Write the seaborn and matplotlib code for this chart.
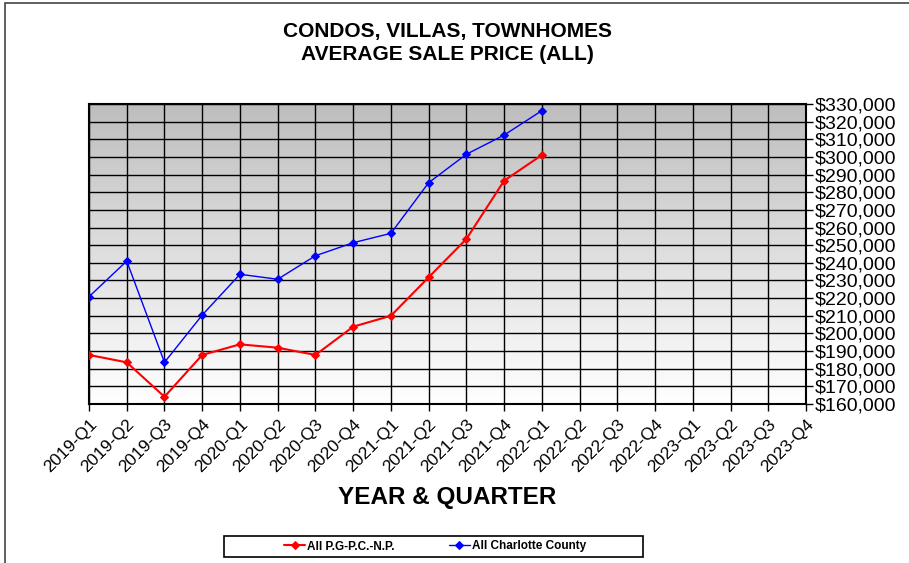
import numpy as np
import pandas as pd
import seaborn as sns
import matplotlib.pyplot as plt
from matplotlib.patches import Rectangle

# quarters on the x axis (data only up to 2022-Q1)
quarters = ["2019-Q1", "2019-Q2", "2019-Q3", "2019-Q4",
            "2020-Q1", "2020-Q2", "2020-Q3", "2020-Q4",
            "2021-Q1", "2021-Q2", "2021-Q3", "2021-Q4",
            "2022-Q1", "2022-Q2", "2022-Q3", "2022-Q4",
            "2023-Q1", "2023-Q2", "2023-Q3", "2023-Q4"]

pgpc_prices = [187800, 183600, 164100, 187800, 193800, 191900, 187800,
               203800, 210000, 231800, 253500, 286500, 301100]
charlotte_prices = [220800, 241000, 183600, 210400, 233500, 230700, 244000,
                    251400, 256700, 285400, 301500, 312400, 326200]

series_names = ["All P.G-P.C.-N.P.", "All Charlotte County"]
series_colors = ["#ff0000", "#0000ff"]

rows = []
for name, vals in zip(series_names, [pgpc_prices, charlotte_prices]):
    for i, v in enumerate(vals):
        rows.append({"pos": i, "quarter": quarters[i], "price": v, "series": name})
df = pd.DataFrame(rows)

sns.set_theme(style="white")
plt.rcParams["font.family"] = ["Liberation Sans", "DejaVu Sans"]
plt.rcParams.update({"text.color": "black", "axes.labelcolor": "black",
                     "xtick.color": "black", "ytick.color": "black"})

fig = plt.figure(figsize=(9.09, 5.63), dpi=100)
ax = fig.add_axes([89 / 909, 1 - 404 / 563, (806 - 89) / 909, 300 / 563])

# gray-to-white gradient background
grad = np.linspace(0, 1, 256).reshape(-1, 1)
ax.imshow(grad, cmap=plt.cm.colors.LinearSegmentedColormap.from_list(
    "g", ["#ffffff", "#bebebe"]), aspect="auto", extent=[0, 1, 0, 1],
    transform=ax.transAxes, origin="lower", zorder=0)

for name, col, lw in zip(series_names, series_colors, [1.5, 1.0]):
    sub = df[df["series"] == name]
    sns.lineplot(data=sub, x="pos", y="price", ax=ax, color=col, lw=lw,
                 marker="D", markersize=4.5, markeredgecolor=col,
                 label=name, zorder=3)

ax.set_xlim(0, len(quarters) - 1)
ax.set_ylim(160000, 330000)
ax.set_xticks(range(len(quarters)))
ax.set_xticklabels(quarters, rotation=45, ha="right", rotation_mode="anchor",
                   fontsize=12.5)
yt = np.arange(160000, 330001, 10000)
ax.set_yticks(yt)
ax.set_yticklabels([f"${v:,.0f}" for v in yt], fontsize=14)
ax.yaxis.tick_right()
ax.tick_params(axis="both", direction="out", length=5, width=1, color="black")
ax.tick_params(axis="y", pad=1, right=True, left=False)
ax.tick_params(axis="x", bottom=True, pad=4)

ax.grid(True, color="black", lw=1, zorder=1)
ax.set_axisbelow(False)
for s in ax.spines.values():
    s.set_color("black")
    s.set_linewidth(1.5)

ax.set_xlabel("YEAR & QUARTER", fontsize=17.5, fontweight="bold", labelpad=8)
ax.set_ylabel("")
fig.text(0.492, 1 - 31 / 563, "CONDOS, VILLAS, TOWNHOMES", ha="center",
         va="center", fontsize=15, fontweight="bold")
fig.text(0.492, 1 - 55 / 563, "AVERAGE SALE PRICE (ALL)", ha="center",
         va="center", fontsize=15, fontweight="bold")

# legend without its own frame; frame drawn separately to match the wide box
leg = ax.legend(loc="center", bbox_to_anchor=(435 / 909, 1 - 546.5 / 563),
                bbox_transform=fig.transFigure, ncol=2, frameon=False,
                prop={"weight": "bold", "size": 8.5}, handlelength=1.8,
                columnspacing=4.6, handletextpad=0.15)
for t in leg.get_lines():
    t.set_markersize(4)
fig.patches.append(Rectangle((224 / 909, 1 - 557 / 563), (643 - 224) / 909,
                             21 / 563, transform=fig.transFigure, fill=False,
                             edgecolor="black", lw=1.2))

# outer chart border
fig.patches.append(Rectangle((5 / 909, -0.01), 1.0, 1 - 3 / 563 + 0.01,
                             transform=fig.transFigure, fill=False,
                             edgecolor="#444444", lw=1.2))

fig.savefig("out.png", dpi=100, facecolor="white")
